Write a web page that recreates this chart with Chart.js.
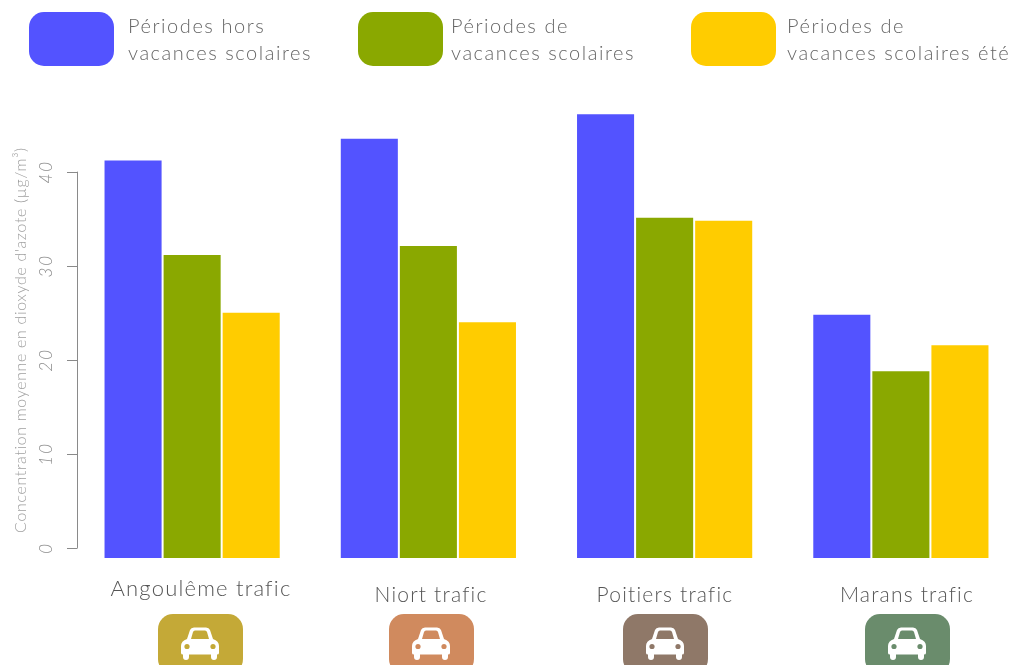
<!DOCTYPE html>
<html lang="fr">
<head>
<meta charset="utf-8">
<title>Concentration moyenne en dioxyde d'azote</title>
<script src="https://cdn.jsdelivr.net/npm/chart.js@4/dist/chart.umd.min.js"></script>
<style>
  html, body { margin: 0; height: 100%; overflow: hidden; background: #fff; }
  #page { position: relative; width: 1012px; height: 665px; overflow: hidden; font-family: Lato, sans-serif; font-weight: 300; }
  #chart-box { position: absolute; left: 0; top: 0; width: 1040px; height: 665px; }
  .swatch { position: absolute; top: 12px; width: 85px; height: 54px; border-radius: 15px; }
  .legend-text { position: absolute; top: 12px; font-size: 20px; line-height: 27px; letter-spacing: 1.55px; color: #666; white-space: pre; }
  .badge { position: absolute; top: 614px; width: 85px; height: 60px; border-radius: 15px; }
  .badge svg { position: absolute; left: 23px; top: 13px; width: 38px; height: 33px; }
</style>
</head>
<body>
<div id="page">
  <div id="chart-box"><canvas id="no2-chart"></canvas></div>
</div>
<script>
// Data
const stations = ['Angoulême trafic', 'Niort trafic', 'Poitiers trafic', 'Marans trafic'];
const horsVacances = [41.3, 43.6, 46.2, 24.9];
const vacances = [31.25, 32.2, 35.2, 18.9];
const vacancesEte = [25.1, 24.1, 34.9, 21.65];
const yTicks = [0, 10, 20, 30, 40];
const yTitle = "Concentration moyenne en dioxyde d'azote (µg/m³)";
const seriesLabels = ['Périodes hors\nvacances scolaires', 'Périodes de\nvacances scolaires', 'Périodes de\nvacances scolaires été'];
const seriesColors = ['#5353ff', '#8aa800', '#ffcc00'];
const badgeColors = ['#c4a937', '#d08a5e', '#8f7868', '#6a8c6c'];

// Page layout of the pieces around the chart
const swatchLeft = [29, 358, 691];
const legendTextLeft = [128, 451, 787];
const stationLabelX = [201, 431, 665, 907];
const stationLabelY = [596, 602, 602, 602];
const stationLabelSize = [22, 21, 21, 21];
const badgeLeft = [158, 389, 623, 865];

const page = document.getElementById('page');

// Legend blocks
seriesLabels.forEach((label, i) => {
    const swatch = document.createElement('div');
    swatch.className = 'swatch';
    swatch.style.left = swatchLeft[i] + 'px';
    swatch.style.background = seriesColors[i];
    page.appendChild(swatch);

    const text = document.createElement('div');
    text.className = 'legend-text';
    text.style.left = legendTextLeft[i] + 'px';
    text.textContent = label;
    page.appendChild(text);
});

// Car badges under each station
function carIcon(color) {
    return `<svg viewBox="0 0 38 33">
        <path fill="#fff" fill-rule="evenodd" d="M6 12 L9 3 Q10 .5 13 .5 H25 Q28 .5 29 3 L32 12 Q38 14 38 19 V26 Q38 27.500 36 27.500 V30 Q36 33 33 33 Q30 33 30 30 V27.500 H8 V30 Q8 33 5 33 Q2 33 2 30 V27.500 Q0 27.500 0 26 V19 Q0 14 6 12 Z M10 12 H28 L26 5 Q25.500 3.500 24 3.500 H14 Q12.500 3.500 12 5 Z"/>
        <circle cx="6" cy="19.500" r="2.600" fill="${color}"/>
        <circle cx="32" cy="19.500" r="2.600" fill="${color}"/>
    </svg>`;
}
badgeLeft.forEach((left, i) => {
    const badge = document.createElement('div');
    badge.className = 'badge';
    badge.style.left = left + 'px';
    badge.style.background = badgeColors[i];
    badge.innerHTML = carIcon(badgeColors[i]);
    page.appendChild(badge);
});

// Axis line and tick marks sit a little inside the plot area
const axisLinePlugin = {
    id: 'axisLine',
    beforeDraw(chart) {
        // spaced digits on the y tick labels
        chart.ctx.letterSpacing = '2px';
    },
    beforeDatasetsDraw(chart) {
        const y = chart.scales.y;
        const ctx = chart.ctx;
        const x = 77;
        ctx.save();
        ctx.strokeStyle = '#8a8a8a';
        ctx.lineWidth = 1;
        ctx.beginPath();
        ctx.moveTo(x + 0.5, y.getPixelForValue(yTicks[0]));
        ctx.lineTo(x + 0.5, y.getPixelForValue(yTicks[yTicks.length - 1]));
        yTicks.forEach(t => {
            const py = Math.round(y.getPixelForValue(t)) + 0.5;
            ctx.moveTo(x - 10, py);
            ctx.lineTo(x + 0.5, py);
        });
        ctx.stroke();
        ctx.restore();
    }
};

// Station names are not centred exactly under their bars, and the axis title
// is centred on its own span rather than on the plot height
const textPlugin = {
    id: 'extraText',
    afterDraw(chart) {
        const ctx = chart.ctx;
        ctx.save();
        ctx.letterSpacing = '1.2px';
        ctx.fillStyle = '#555';
        ctx.textAlign = 'center';
        stations.forEach((name, i) => {
            ctx.font = `300 ${stationLabelSize[i]}px Lato, sans-serif`;
            ctx.fillText(name, stationLabelX[i], stationLabelY[i]);
        });
        ctx.restore();

        ctx.save();
        ctx.translate(26, 340);
        ctx.rotate(-Math.PI / 2);
        ctx.font = '300 16px Lato, sans-serif';
        ctx.letterSpacing = '0.65px';
        ctx.fillStyle = '#a0a0a0';
        ctx.textAlign = 'center';
        ctx.fillText(yTitle, 0, 0);
        ctx.restore();
    }
};

new Chart(document.getElementById('no2-chart'), {
    type: 'bar',
    data: {
        labels: stations,
        datasets: [horsVacances, vacances, vacancesEte].map((values, i) => ({
            label: seriesLabels[i].replace('\n', ' '),
            data: values,
            backgroundColor: seriesColors[i],
            borderColor: 'rgba(255, 255, 255, 0.55)',
            borderWidth: 1,
            base: -1.07,
            categoryPercentage: 0.75,
            barPercentage: 1
        }))
    },
    options: {
        responsive: true,
        maintainAspectRatio: false,
        animation: false,
        layout: { padding: { top: 0, right: 21, bottom: 99, left: 0 } },
        plugins: { legend: { display: false }, tooltip: { enabled: false } },
        scales: {
            x: {
                grid: { display: false },
                border: { display: false },
                ticks: { display: false }
            },
            y: {
                min: -1.07,
                max: 56.1,
                grid: { display: false },
                border: { display: false },
                afterFit(scale) { scale.width = 74; },
                afterBuildTicks(scale) { scale.ticks = yTicks.map(value => ({ value })); },
                ticks: {
                    color: '#8c8c8c',
                    minRotation: 90,
                    maxRotation: 90,
                    padding: 10,
                    crossAlign: 'center',
                    font: { family: 'Lato, sans-serif', weight: 300, style: 'italic', size: 17 }
                }
            }
        }
    },
    plugins: [axisLinePlugin, textPlugin]
});
</script>
</body>
</html>
